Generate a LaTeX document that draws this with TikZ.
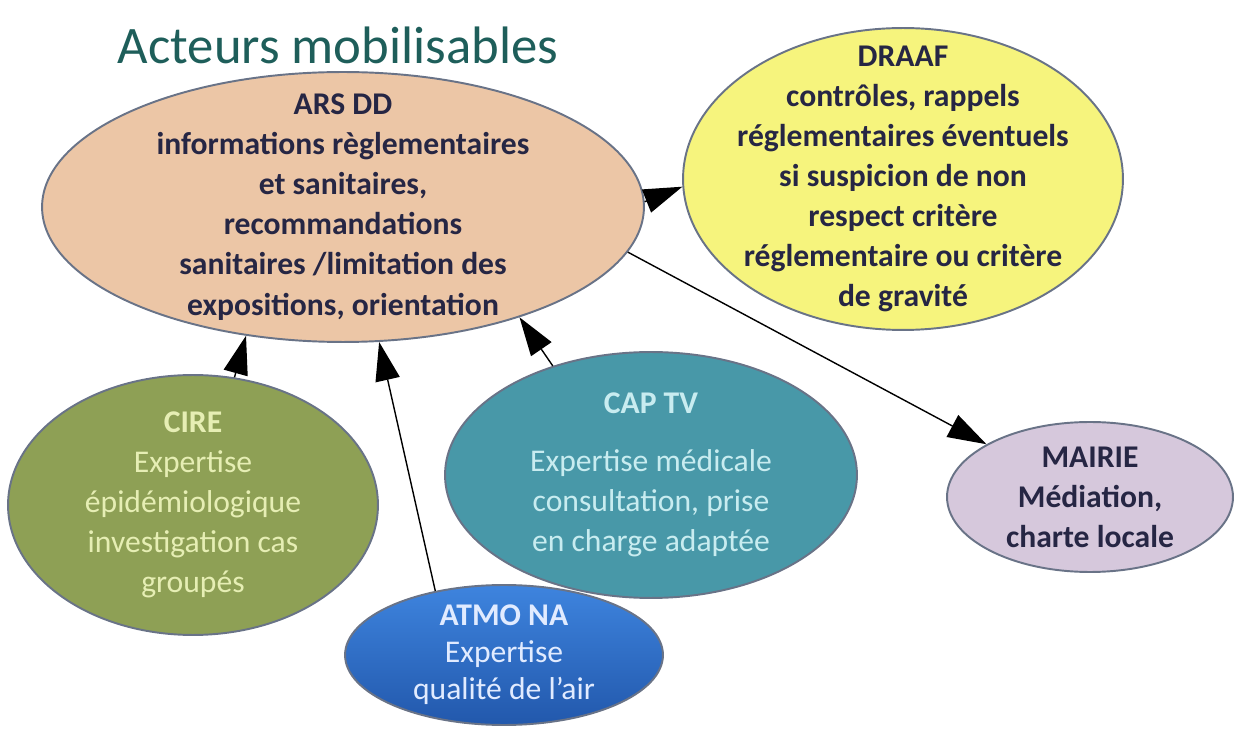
\documentclass[tikz,border=0pt]{standalone}
\usepackage{fontspec}
\setmainfont{Carlito}
\usetikzlibrary{shapes.geometric,arrows.meta}
\definecolor{bord}{RGB}{105,115,135}
\definecolor{titreC}{RGB}{30,94,90}
\definecolor{texteFonce}{RGB}{38,38,68}
\definecolor{ars}{RGB}{236,198,166}
\definecolor{draaf}{RGB}{246,244,125}
\definecolor{cire}{RGB}{142,160,85}
\definecolor{cireTxt}{RGB}{230,238,180}
\definecolor{captv}{RGB}{72,152,168}
\definecolor{captvTxt}{RGB}{200,236,240}
\definecolor{atmoH}{RGB}{62,132,222}
\definecolor{atmoB}{RGB}{34,88,172}
\definecolor{atmoTxt}{RGB}{225,235,255}
\definecolor{mairie}{RGB}{214,200,220}
\begin{document}
\begin{tikzpicture}
        [x=0.02cm, y=-0.02cm,
        bulle/.style={ellipse, draw=bord, line width=1.1pt, inner sep=-20pt, align=center, font=\fontsize{18}{22.8}\selectfont},
        fleche/.style={line width=0.8pt, -{Triangle[length=22pt,width=14pt]}}]
        \useasboundingbox (0,0) rectangle (1235,729);
        \node[text=titreC, font=\fontsize{30}{36}\selectfont] (titre) at (338,45) {Acteurs mobilisables};
        
        \node[bulle, fill=ars, text=texteFonce, minimum width=12.04cm, minimum height=5.4cm] (ars) at (343,207)
            {\bfseries ARS DD\\ \bfseries informations règlementaires\\ \bfseries et sanitaires,\\ \bfseries recommandations\\ \bfseries sanitaires /limitation des\\ \bfseries expositions, orientation};
        \node[bulle, fill=draaf, text=texteFonce, minimum width=8.8cm, minimum height=6.04cm] (draaf) at (903,179)
            {\bfseries DRAAF\\ \bfseries contrôles, rappels\\ \bfseries réglementaires éventuels\\ \bfseries si suspicion de non\\ \bfseries respect critère\\ \bfseries réglementaire ou critère\\ \bfseries de gravité};
        \node[bulle, fill=cire, text=cireTxt, minimum width=7.4cm, minimum height=5.2cm] (cire) at (193,505)
            {\textbf{CIRE}\\ Expertise\\ épidémiologique\\ investigation cas\\ groupés};
        \node[bulle, fill=captv, text=captvTxt, minimum width=8.24cm, minimum height=4.92cm] (captv) at (651,475)
            {\textbf{CAP TV}\\[10pt] Expertise médicale\\ consultation, prise\\ en charge adaptée};
        \node[bulle, fill=mairie, text=texteFonce, minimum width=5.72cm, minimum height=3cm] (mairie) at (1090,497)
            {\bfseries MAIRIE\\ \bfseries Médiation,\\ \bfseries charte locale};
        \node[bulle, top color=atmoH, bottom color=atmoB, text=atmoTxt, minimum width=6.36cm, minimum height=2.8cm, font=\fontsize{18}{21}\selectfont] (atmo) at (504,655)
            {\textbf{ATMO NA}\\ Expertise\\ qualité de l’air};
        
        \draw[fleche] (ars.1) -- (draaf.182);
        \draw[fleche] (ars.351) -- (mairie.153);
        \draw[fleche] (cire.72) -- (ars.233);
        \draw[fleche] (atmo.137) -- (ars.285);
        \draw[fleche] (captv.132) -- (ars.328);
    \end{tikzpicture}
\end{document}
